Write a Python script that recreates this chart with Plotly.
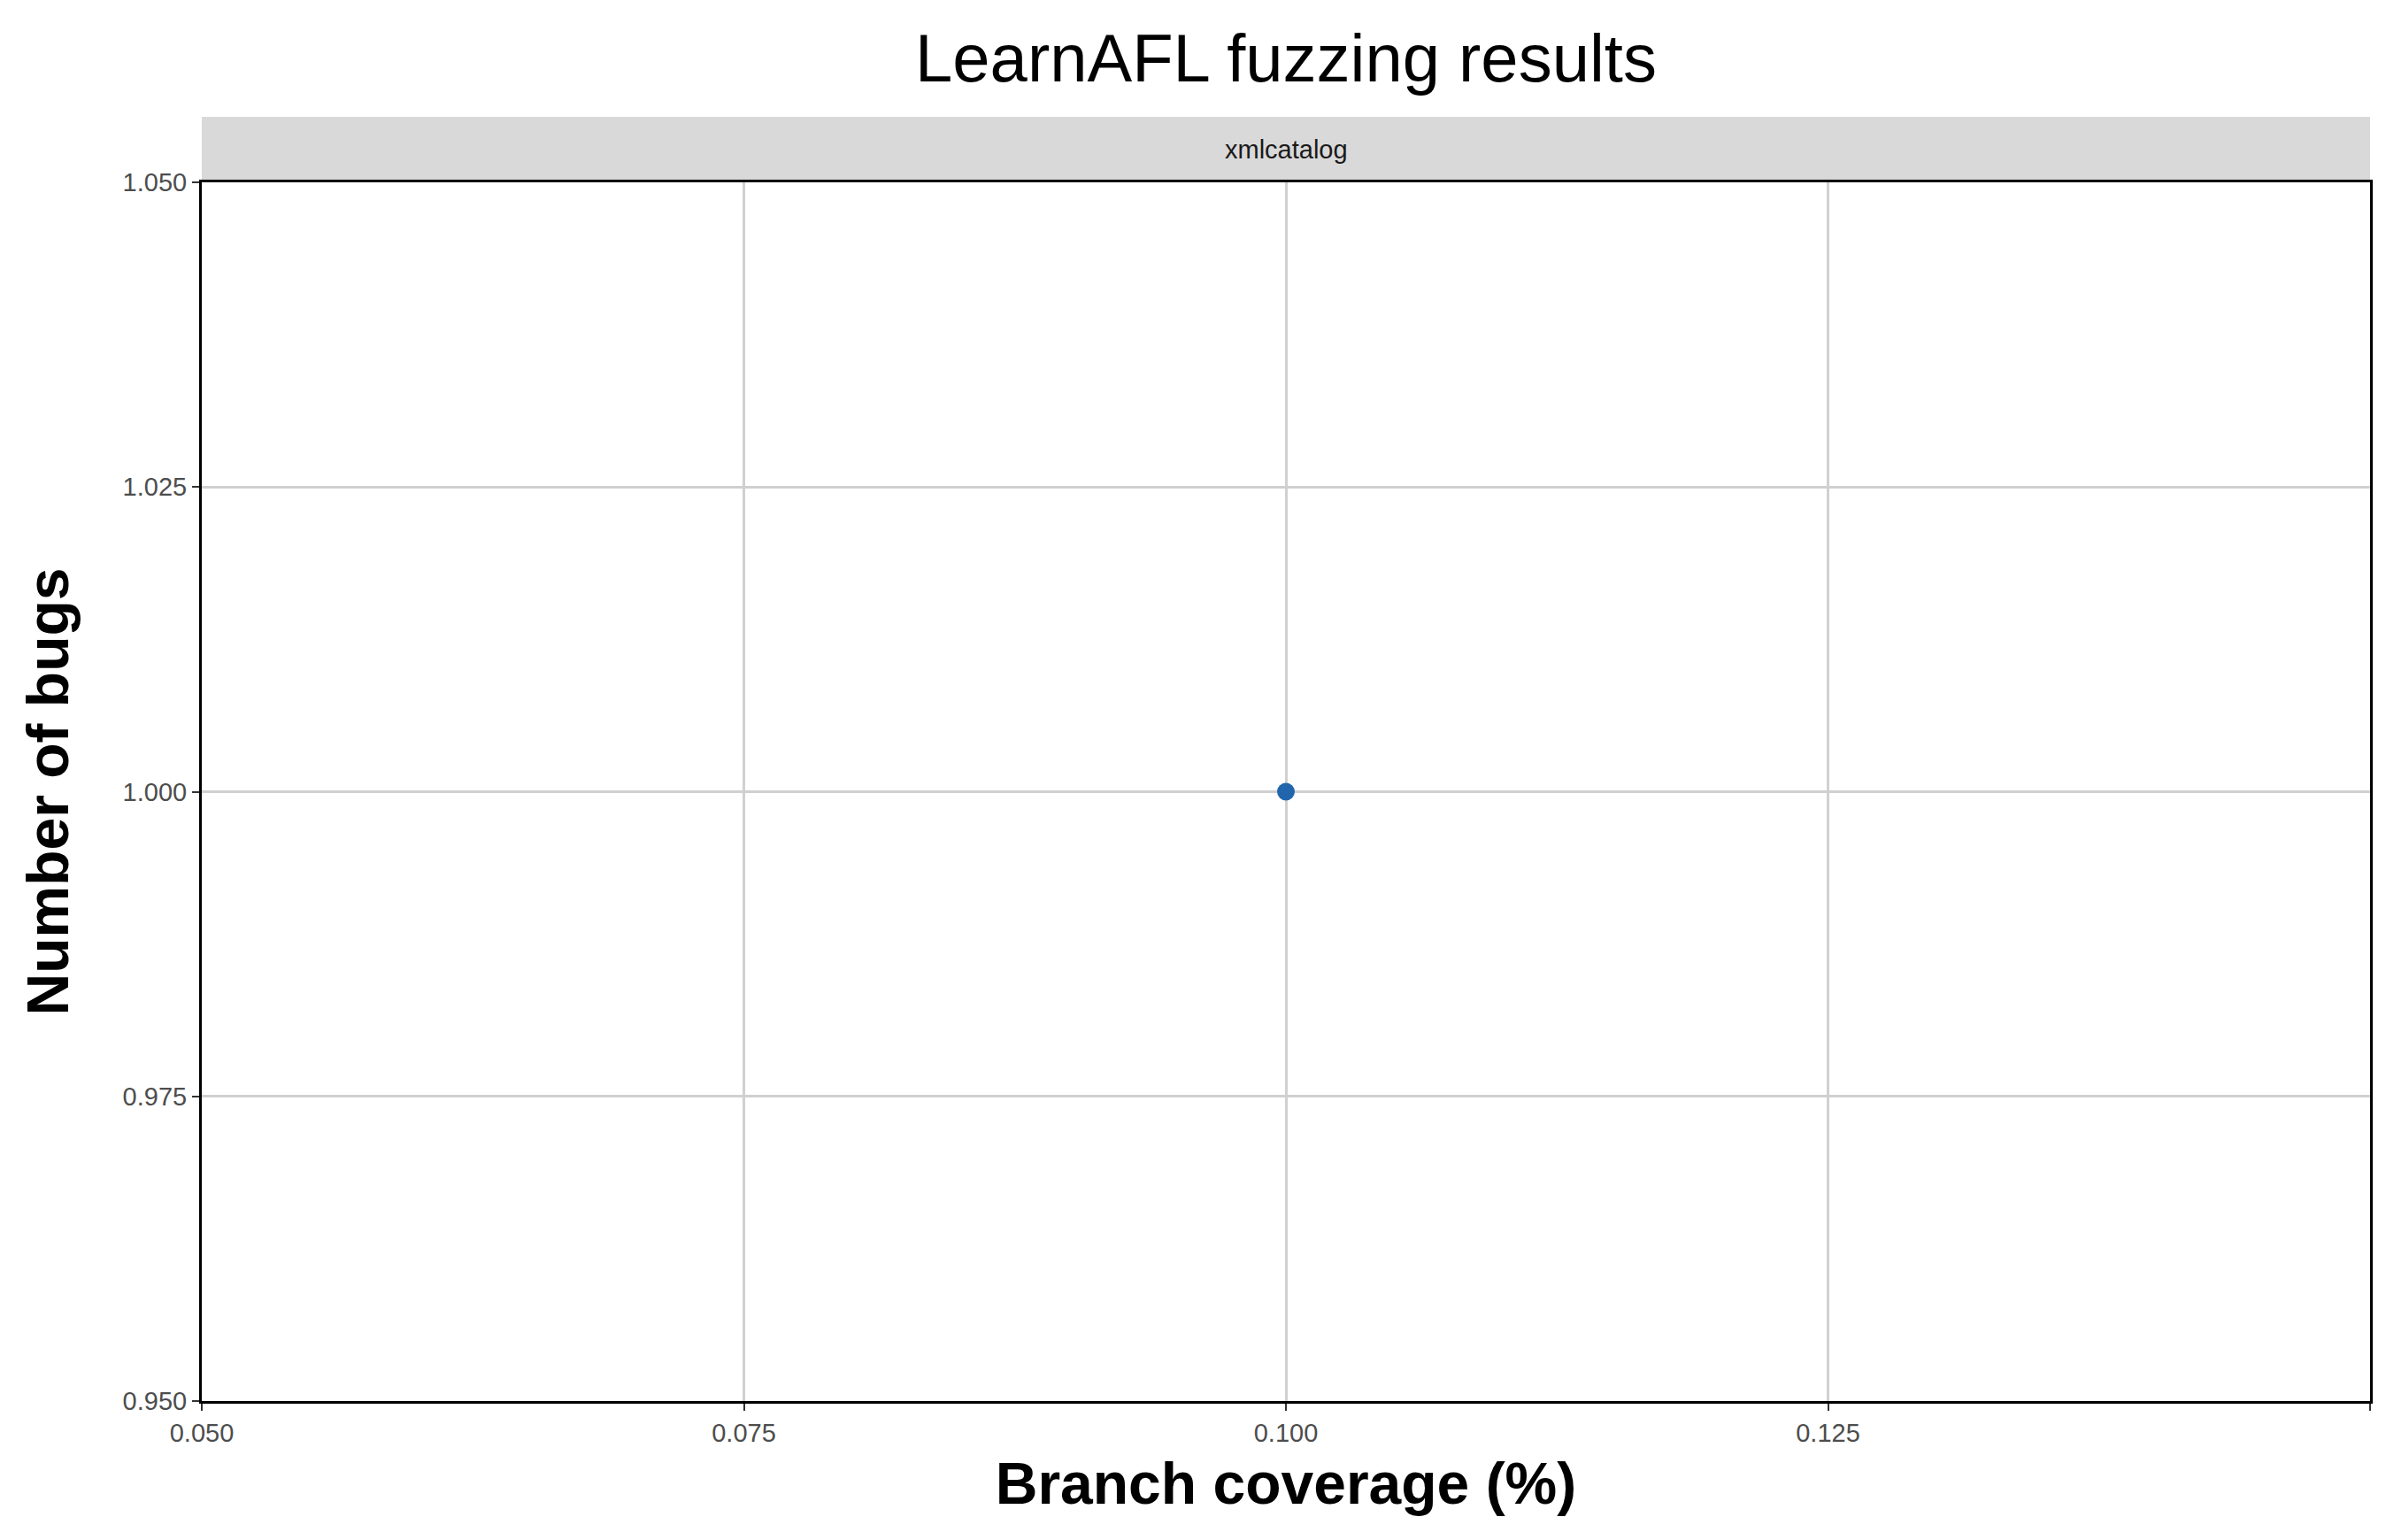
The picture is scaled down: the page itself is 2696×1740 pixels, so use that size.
import plotly.graph_objects as go

coverage = [0.1]
bugs = [1.0]
panel = "xmlcatalog"
x_ticks = [0.050, 0.075, 0.100, 0.125, 0.150]
y_ticks = [0.950, 0.975, 1.000, 1.025, 1.050]

fig = go.Figure(go.Scatter(x=coverage, y=bugs, mode="markers",
                           marker=dict(color="#2166ac", size=20),
                           showlegend=False))

plot_h = 1740 - 198 - 165
strip_h = 74 / plot_h

fig.add_shape(type="rect", xref="paper", yref="paper", x0=0, x1=1,
              y0=1, y1=1 + strip_h, fillcolor="#d9d9d9", line_width=0, layer="below")
fig.add_annotation(text=panel, xref="paper", yref="paper", x=0.5, y=1 + strip_h / 2,
                   yanchor="middle", showarrow=False, font=dict(size=29, color="#1a1a1a"))

axis_common = dict(showgrid=True, gridcolor="#d0d0d0", gridwidth=3,
                   showline=True, linecolor="black", linewidth=3, mirror=True,
                   ticks="outside", tickcolor="#333333", ticklen=8, tickwidth=2,
                   tickfont=dict(size=29, color="#4d4d4d"), zeroline=False)

fig.update_xaxes(range=[0.05, 0.15], tickvals=x_ticks,
                 ticktext=["%.3f" % v for v in x_ticks],
                 title=dict(text="<b>Branch coverage (%)</b>", font=dict(size=66, color="black"),
                            standoff=20), **axis_common)
fig.update_yaxes(range=[0.95, 1.05], tickvals=y_ticks,
                 ticktext=["%.3f" % v for v in y_ticks],
                 title=dict(text="<b>Number of bugs</b>", font=dict(size=66, color="black"),
                            standoff=40), **axis_common)

fig.update_layout(width=2696, height=1740,
                  title=dict(text="LearnAFL fuzzing results", x=0.5, xref="paper",
                             xanchor="center", y=0.967, yanchor="middle",
                             font=dict(size=76, color="black")),
                  font=dict(family="Liberation Sans, Arial, sans-serif"),
                  plot_bgcolor="white", paper_bgcolor="white",
                  margin=dict(l=220, r=26, t=198, b=165))

fig.write_html("out.html")
